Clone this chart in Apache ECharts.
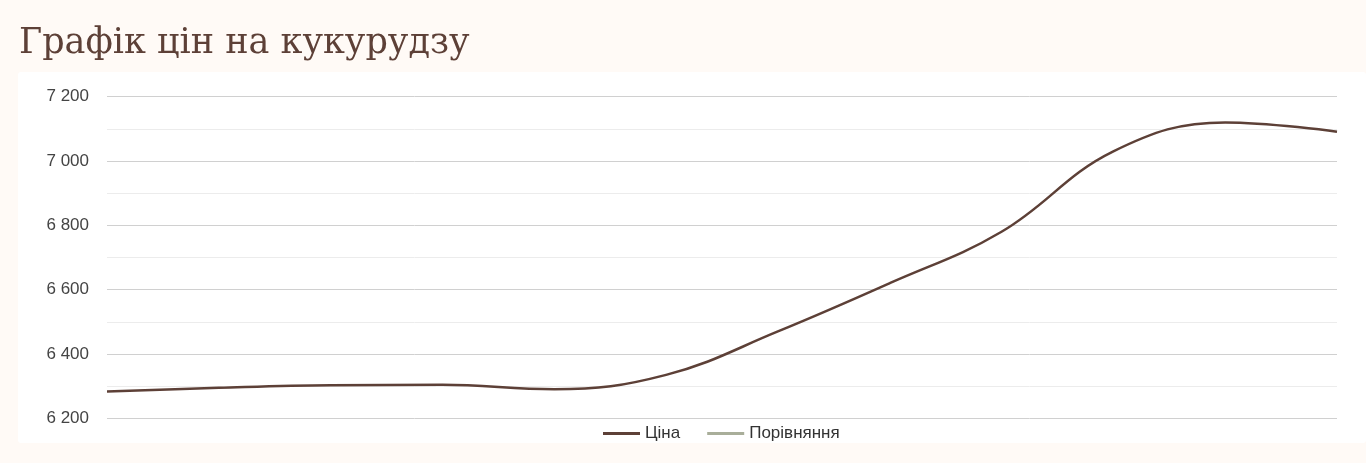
<!DOCTYPE html>
<html>
<head>
<meta charset="utf-8">
<script src="https://cdn.jsdelivr.net/npm/echarts@6/dist/echarts.min.js"></script>
<style>
html,body{margin:0;padding:0;background:#fffaf6;}
#chart{width:1366px;height:463px;}
</style>
</head>
<body>
<div id="chart"></div>
<script>
var categories = ['1','2','3','4','5','6','7','8','9','10','11','12'];
var priceValues = [6283, 6295, 6303, 6304, 6290, 6335, 6470, 6620, 6780, 7030, 7120, 7091];
var compareValues = [];
var yTicks = [6200, 6400, 6600, 6800, 7000, 7200];

function fmt(v){ return String(v).replace(/\B(?=(\d{3})+(?!\d))/g, ' '); }

var chart = echarts.init(document.getElementById('chart'), null, {renderer:'canvas'});
chart.setOption({
  backgroundColor: '#fffaf6',
  animation: false,
  title: {
    text: 'Графік цін на кукурудзу',
    left: 14, top: 21,
    textStyle: {fontFamily: 'DejaVu Serif', fontSize: 35, fontWeight: 'normal', color: '#5d4037'}
  },
  graphic: [{
    type: 'rect', left: 18, top: 72, z: -10,
    shape: {width: 1348, height: 371, r: 3},
    style: {fill: '#ffffff'}
  }],
  legend: {
    bottom: 16, left: 598,
    itemWidth: 37, itemHeight: 3, itemGap: 27,
    icon: 'rect',
    textStyle: {fontFamily: 'Liberation Sans', fontSize: 17, color: '#333'},
    data: ['Ціна', 'Порівняння']
  },
  grid: {left: 107, right: 29, top: 96.7, bottom: 44.7, containLabel: false},
  xAxis: {
    type: 'category', data: categories, boundaryGap: false,
    axisLine: {show: false}, axisTick: {show: false}, axisLabel: {show: false}, splitLine: {show: false}
  },
  yAxis: {
    type: 'value', min: yTicks[0], max: yTicks[yTicks.length-1], interval: 200,
    axisLine: {show: false}, axisTick: {show: false},
    axisLabel: {formatter: fmt, fontFamily: 'Liberation Sans', fontSize: 17, color: '#444', margin: 18},
    splitLine: {lineStyle: {color: '#d0d0d0', width: 1}},
    minorTick: {show: false, splitNumber: 2},
    minorSplitLine: {show: true, lineStyle: {color: '#ececec', width: 1}}
  },
  series: [{
    name: 'Ціна', type: 'line', data: priceValues, smooth: 0.4,
    showSymbol: false, symbol: 'none',
    lineStyle: {color: '#5d4037', width: 2.5}, itemStyle: {color: '#5d4037'}
  }, {
    name: 'Порівняння', type: 'line', data: compareValues,
    showSymbol: false, symbol: 'none',
    lineStyle: {color: '#a9ae9a', width: 2.5}, itemStyle: {color: '#a9ae9a'}
  }]
});
</script>
</body>
</html>
